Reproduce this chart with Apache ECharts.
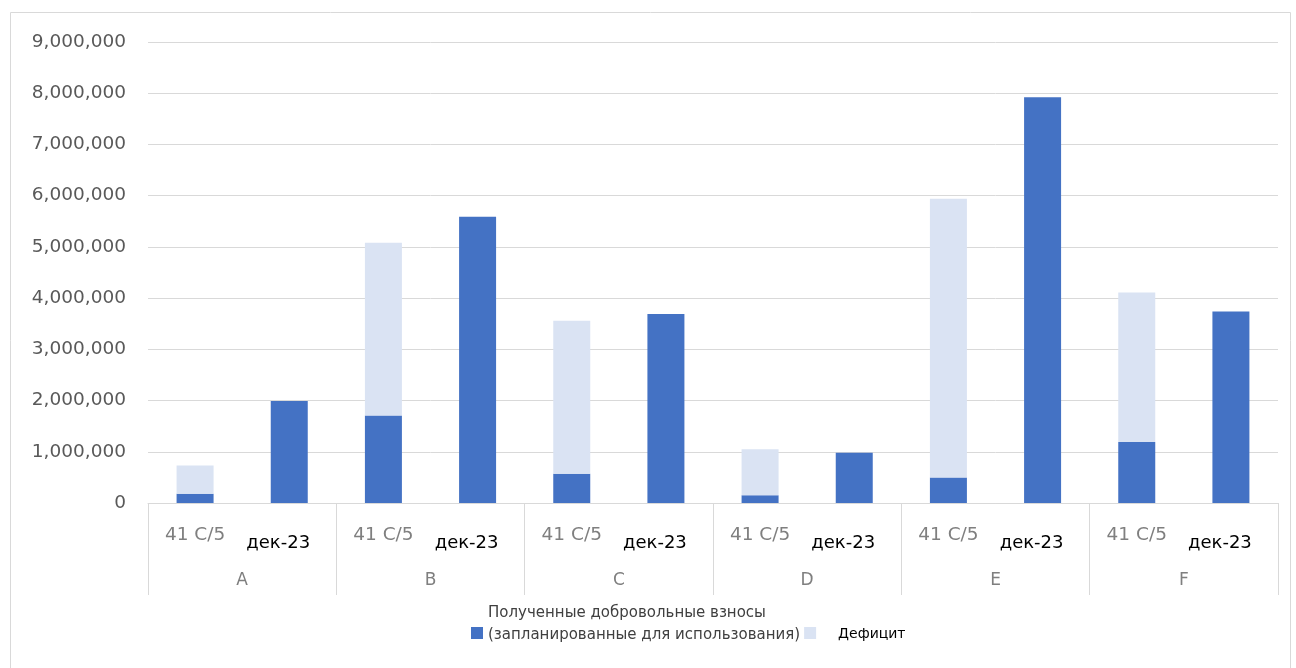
<!DOCTYPE html>
<html><head><meta charset="utf-8">
<script src="https://cdn.jsdelivr.net/npm/echarts@6/dist/echarts.min.js"></script>
<style>html,body{margin:0;padding:0;background:#fff}#c{width:1296px;height:668px}</style>
</head><body><div id="c"></div>
<script>
const categories = ['41 C/5','дек-23','41 C/5','дек-23','41 C/5','дек-23','41 C/5','дек-23','41 C/5','дек-23','41 C/5','дек-23'];
const groups = ['A','B','C','D','E','F'];
const received = [180000, 1990000, 1710000, 5590000, 570000, 3690000, 150000, 980000, 500000, 7920000, 1190000, 3740000];
const deficit = [550000, null, 3370000, null, 2990000, null, 900000, null, 5440000, null, 2920000, null];
const yTicks = {min: 0, max: 9000000, interval: 1000000};
const nameReceived = 'Полученные добровольные взносы\n(запланированные для использования)';
const nameDeficit = 'Дефицит';

const FONT = 'DejaVu Sans';
const ICON = 'path://M0,0L0.01,0L0,0.01Z M0,17L12,17L12,29L0,29Z';
const chart = echarts.init(document.getElementById('c'));
chart.setOption({
  animation: false,
  textStyle: {fontFamily: FONT},
  graphic: [{type: 'rect', shape: {x: 10.5, y: 12.5, width: 1280, height: 670}, style: {fill: 'none', stroke: '#d9d9d9', lineWidth: 1}, silent: true}],
  grid: {left: 148, right: 18, top: 42, bottom: 165},
  legend: {
    left: 466, top: 601, itemWidth: 12, itemHeight: 29, itemGap: 4,
    data: [{name: nameReceived, icon: ICON}, {name: nameDeficit, icon: ICON}],
    formatter: function (n) { return n === nameDeficit ? '{d|' + n + '}' : '{r|' + n.split('\n').join('}\n{r|') + '}'; },
    textStyle: {
      fontFamily: FONT, fontSize: 15,
      rich: {
        r: {color: '#404040', fontFamily: FONT, fontSize: 15, lineHeight: 22},
        d: {color: '#000', fontFamily: FONT, fontSize: 14, padding: [20, 0, 0, 17]}
      }
    }
  },
  xAxis: [{
    type: 'category', data: categories, position: 'bottom',
    axisLine: {show: true, lineStyle: {color: '#d9d9d9', width: 1}},
    axisTick: {show: false},
    axisLabel: {
      interval: 0, margin: 23,
      formatter: function (v) { return v === 'дек-23' ? '{b|' + v + '}' : '{a|' + v + '}'; },
      rich: {
        a: {color: '#7f7f7f', fontSize: 18.5, fontFamily: FONT},
        b: {color: '#000', fontSize: 18, fontFamily: FONT, padding: [8, 22, 0, 0]}
      }
    }
  }, {
    type: 'category', data: groups, position: 'bottom', gridIndex: 0,
    axisLine: {show: false},
    axisTick: {show: true, length: 92, alignWithLabel: false, lineStyle: {color: '#d9d9d9', width: 1}},
    axisLabel: {margin: 69, color: '#7f7f7f', fontSize: 17, fontFamily: FONT},
    splitLine: {show: false}
  }],
  yAxis: {
    type: 'value', min: yTicks.min, max: yTicks.max, interval: yTicks.interval,
    axisLine: {show: false}, axisTick: {show: false},
    axisLabel: {color: '#595959', fontSize: 18.5, margin: 22, fontFamily: FONT,
      formatter: function (v) { return v.toLocaleString('en-US'); }},
    splitLine: {lineStyle: {color: '#d9d9d9', width: 1}}
  },
  series: [{
    name: nameReceived, type: 'bar', stack: 'total', barWidth: 37, xAxisIndex: 0,
    itemStyle: {color: '#4472C4'}, data: received
  }, {
    name: nameDeficit, type: 'bar', stack: 'total', barWidth: 37, xAxisIndex: 0,
    itemStyle: {color: '#DAE3F3'}, data: deficit
  }]
});
</script></body></html>
